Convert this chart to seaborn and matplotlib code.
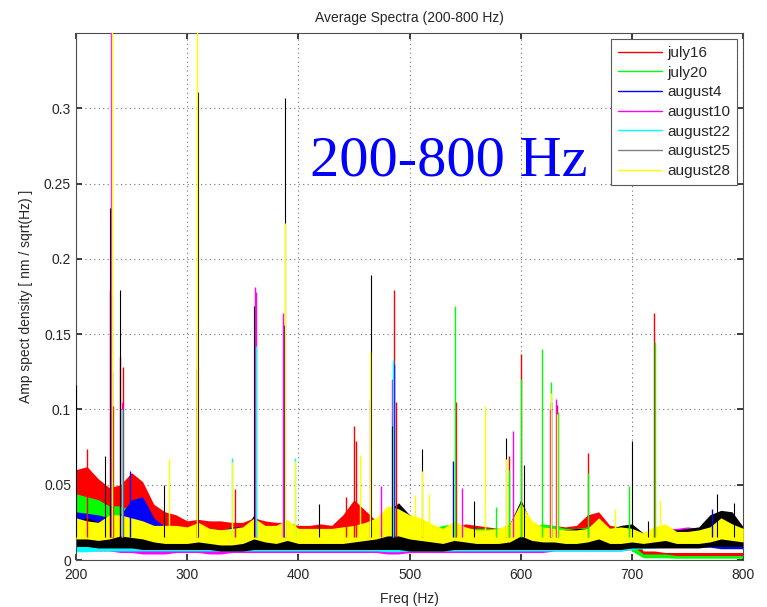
import numpy as np
import pandas as pd
import matplotlib
matplotlib.use("Agg")
import matplotlib.pyplot as plt
import seaborn as sns

# Frequency grid (Hz) on which the spectral envelopes are tabulated
freq = np.arange(200, 801, 10)

series_names = ["july16", "july20", "august4", "august10", "august22", "august25", "august28"]
series_colors = ["#ff0000", "#00ff00", "#0000ff", "#ff00ff", "#00ffff", "#000000", "#ffff00"]

# Upper / lower envelope of each averaged spectrum  [nm / sqrt(Hz)]
july16_hi = [.060, .062, .054, .048, .050, .058, .052, .037, .032, .030,
             .026, .027, .026, .026, .025, .025, .028, .026, .025, .025,
             .023, .023, .024, .023, .030, .040, .033, .026, .025, .024,
             .022, .021, .021, .020, .021, .024, .023, .022, .021, .022,
             .025, .022, .022, .023, .022, .023, .030, .032, .023, .022,
             .018, .006, .006, .005, .005, .005, .005, .005, .005, .005,
             .005]
july16_lo = [.024, .026, .024, .022, .022, .026, .024, .016, .014, .014,
             .013, .013, .013, .013, .013, .013, .015, .013, .013, .013,
             .013, .013, .013, .013, .015, .018, .016, .014, .014, .014,
             .013, .013, .013, .013, .013, .013, .013, .013, .013, .013,
             .013, .013, .013, .013, .013, .013, .016, .016, .013, .013,
             .008, .003, .003, .003, .002, .002, .002, .002, .002, .002,
             .002]
july20_hi = [.044, .042, .040, .036, .036, .033, .030, .025, .023, .022,
             .021, .022, .021, .020, .021, .021, .024, .021, .020, .022,
             .020, .020, .021, .020, .022, .022, .022, .022, .025, .024,
             .023, .021, .021, .023, .024, .021, .021, .021, .021, .022,
             .024, .022, .024, .023, .021, .021, .022, .022, .021, .023,
             .010, .004, .004, .004, .003, .003, .003, .003, .003, .003,
             .003]
july20_lo = [.022, .022, .020, .019, .019, .018, .016, .014, .013, .013,
             .012, .012, .012, .012, .012, .012, .012, .012, .012, .012,
             .012, .012, .012, .012, .012, .012, .012, .012, .012, .012,
             .012, .012, .012, .012, .012, .012, .012, .012, .012, .012,
             .012, .012, .012, .012, .012, .012, .012, .012, .012, .012,
             .006, .0015, .0015, .0015, .0012, .0012, .0012, .0012, .0012, .0012,
             .0012]
august4_hi = [.032, .031, .030, .028, .030, .040, .042, .028, .022, .020,
              .019, .020, .019, .019, .022, .022, .024, .020, .019, .022,
              .019, .019, .019, .019, .020, .021, .022, .022, .024, .023,
              .022, .020, .019, .020, .024, .020, .019, .019, .019, .021,
              .024, .021, .020, .020, .019, .019, .021, .022, .019, .020,
              .018, .016, .018, .018, .016, .016, .017, .020, .022, .020,
              .018]
august4_lo = [.016, .016, .016, .015, .015, .020, .020, .014, .012, .012,
              .011, .011, .011, .011, .011, .011, .011, .011, .011, .011,
              .011, .011, .011, .011, .011, .011, .011, .011, .011, .011,
              .011, .011, .011, .011, .011, .011, .011, .011, .011, .011,
              .011, .011, .011, .011, .011, .011, .011, .011, .011, .011,
              .009, .0085, .0085, .0085, .0085, .0085, .0085, .0085, .0075, .0075,
              .0075]
august10_hi = [.016, .016, .015, .015, .015, .015, .014, .013, .013, .013,
               .013, .014, .013, .013, .013, .013, .016, .014, .013, .015,
               .013, .013, .013, .013, .013, .013, .013, .013, .016, .016,
               .014, .013, .013, .013, .014, .013, .013, .013, .013, .014,
               .016, .014, .014, .014, .014, .014, .015, .016, .014, .015,
               .016, .016, .018, .021, .021, .022, .021, .020, .020, .018,
               .017]
august10_lo = [.006, .006, .006, .006, .005, .005, .004, .004, .004, .005,
               .005, .005, .004, .004, .005, .005, .005, .005, .005, .005,
               .005, .005, .005, .005, .005, .005, .005, .005, .004, .004,
               .005, .005, .005, .005, .005, .005, .005, .005, .005, .005,
               .005, .005, .005, .006, .006, .006, .006, .006, .006, .006,
               .007, .009, .009, .010, .010, .010, .010, .010, .010, .010,
               .010]
august22_hi = [.015, .015, .014, .014, .014, .014, .013, .013, .013, .013,
               .013, .014, .013, .013, .013, .013, .018, .014, .013, .016,
               .013, .013, .013, .013, .013, .013, .014, .014, .018, .018,
               .014, .013, .013, .013, .014, .013, .013, .013, .013, .014,
               .018, .014, .014, .014, .013, .013, .014, .015, .013, .014,
               .015, .014, .015, .016, .015, .015, .015, .016, .016, .015,
               .014]
august22_lo = [.0055, .0055, .006, .006, .006, .006, .006, .006, .006, .006,
               .006, .006, .006, .006, .006, .006, .006, .006, .006, .006,
               .006, .006, .006, .006, .006, .006, .006, .006, .0055, .0055,
               .006, .006, .006, .006, .006, .006, .006, .006, .006, .006,
               .006, .006, .006, .006, .006, .006, .006, .006, .006, .006,
               .007, .0075, .008, .009, .009, .009, .009, .009, .009, .009,
               .009]
august25_hi = [.026, .028, .025, .024, .026, .022, .020, .019, .022, .018,
               .017, .020, .016, .016, .017, .018, .030, .020, .019, .024,
               .018, .018, .020, .017, .018, .020, .022, .026, .032, .038,
               .030, .025, .021, .019, .022, .020, .018, .018, .019, .024,
               .040, .024, .020, .020, .020, .021, .021, .024, .020, .023,
               .024, .018, .020, .021, .020, .021, .022, .030, .033, .032,
               .022]
august25_lo = [.009, .009, .008, .008, .008, .008, .007, .007, .007, .007,
               .007, .007, .007, .006, .006, .006, .007, .007, .007, .007,
               .007, .007, .007, .007, .007, .007, .007, .007, .007, .007,
               .006, .006, .006, .006, .007, .007, .007, .007, .007, .007,
               .007, .007, .007, .007, .007, .007, .007, .007, .007, .007,
               .008, .008, .008, .008, .008, .008, .008, .009, .009, .009,
               .009]
august28_hi = [.028, .026, .025, .030, .030, .028, .026, .023, .023, .023,
               .022, .025, .021, .020, .021, .022, .028, .023, .023, .027,
               .021, .021, .021, .021, .022, .023, .025, .028, .036, .034,
               .030, .028, .024, .021, .026, .022, .020, .020, .021, .024,
               .038, .026, .022, .021, .020, .020, .021, .028, .021, .022,
               .021, .018, .022, .024, .019, .019, .020, .022, .028, .024,
               .021]
august28_lo = [.014, .014, .013, .014, .016, .015, .014, .012, .011, .011,
               .011, .012, .011, .010, .010, .011, .014, .012, .011, .013,
               .011, .011, .011, .011, .011, .012, .013, .014, .016, .016,
               .014, .013, .012, .011, .013, .012, .011, .011, .011, .012,
               .016, .013, .012, .012, .011, .011, .012, .014, .011, .011,
               .012, .011, .012, .013, .011, .011, .011, .012, .014, .013,
               .012]

# Narrow spectral lines: (frequency Hz, peak amplitude)
july16_lines = [(209.6, 0.074), (231, 0.179), (233, 0.102), (240, 0.135), (242, 0.128),
                (309, 0.127), (342.8, 0.047), (442.4, 0.042), (450, 0.089), (451.5, 0.079),
                (486, 0.179), (487.5, 0.105), (541.5, 0.105), (589, 0.069), (600, 0.137),
                (633, 0.103), (660, 0.071), (720, 0.164)]
july20_lines = [(541, 0.169), (577.6, 0.035), (589.5, 0.06), (600.3, 0.12), (619, 0.14),
                (627, 0.118), (633.5, 0.098), (660.3, 0.058), (697, 0.049), (720.3, 0.145)]
august4_lines = [(248.5, 0.059), (386.8, 0.156), (485.6, 0.13), (538.6, 0.066),
                 (627.2, 0.105), (771.5, 0.034)]
august10_lines = [(231.3, 0.62), (232.5, 0.125), (241, 0.105), (308.5, 0.152),
                  (361, 0.181), (362.3, 0.178), (386.2, 0.164), (464, 0.106),
                  (474.6, 0.049), (484.5, 0.12), (546.9, 0.048), (593, 0.086),
                  (626.6, 0.1), (632, 0.107)]
august22_lines = [(241.3, 0.1), (340.4, 0.068), (361.8, 0.142), (397, 0.068), (485.2, 0.133)]
august25_lines = [(200.3, 0.116), (226, 0.069), (230.5, 0.234), (232, 0.176), (239.6, 0.179),
                  (279, 0.05), (309.6, 0.311), (360.2, 0.169), (388.3, 0.307), (419, 0.037),
                  (465.2, 0.189), (484, 0.089), (511.3, 0.074), (558, 0.039), (586.6, 0.081),
                  (602.7, 0.063), (700, 0.079), (714.5, 0.026), (776.6, 0.044), (791.6, 0.038)]
august28_lines = [(232.2, 0.45), (283.5, 0.067), (309.2, 0.48), (340.2, 0.065), (387.7, 0.224),
                  (397.2, 0.066), (455, 0.07), (464.8, 0.138), (505, 0.043), (511.6, 0.059),
                  (517.6, 0.044), (568, 0.102), (586.9, 0.067), (627.4, 0.111), (632.6, 0.097),
                  (685, 0.034), (725, 0.04)]

envelopes = {
    "july16": (july16_lo, july16_hi, july16_lines),
    "july20": (july20_lo, july20_hi, july20_lines),
    "august4": (august4_lo, august4_hi, august4_lines),
    "august10": (august10_lo, august10_hi, august10_lines),
    "august22": (august22_lo, august22_hi, august22_lines),
    "august25": (august25_lo, august25_hi, august25_lines),
    "august28": (august28_lo, august28_hi, august28_lines),
}

sns.set_theme(style="ticks")
plt.rcParams["font.family"] = ["Liberation Sans", "DejaVu Sans"]

fig = plt.figure(figsize=(7.67, 6.07), dpi=100)
ax = fig.add_axes([0.099, 0.0774, 0.870, 0.8682])

# Each spectrum as a filled band between its lower and upper envelope;
# later spectra are stacked on top of earlier ones.
for i, (name, color) in enumerate(zip(series_names, series_colors)):
    lo, hi, _ = envelopes[name]
    df = pd.DataFrame({
        "freq": np.concatenate([freq, freq]),
        "amp": np.concatenate([lo, hi]),
    })
    sns.lineplot(data=df, x="freq", y="amp", ax=ax, color=color,
                 estimator="mean", errorbar=("pi", 100),
                 err_kws={"alpha": 1.0, "linewidth": 0, "zorder": 2 + 0.1 * i},
                 linewidth=0, zorder=2 + 0.1 * i, label=name)

# Narrow lines drawn over the bands
for name, color in zip(series_names, series_colors):
    _, _, lines = envelopes[name]
    f = [p[0] for p in lines]
    a = [p[1] for p in lines]
    lw = 0.8 if name == "august25" else 1.0
    ax.vlines(f, 0.015, a, colors=color, linewidth=lw, zorder=5)

ax.set_xlim(200, 800)
ax.set_ylim(0, 0.35)
ax.set_xticks([200, 300, 400, 500, 600, 700, 800])
ax.set_yticks([0, 0.05, 0.1, 0.15, 0.2, 0.25, 0.3])
ax.set_yticklabels(["0", "0.05", "0.1", "0.15", "0.2", "0.25", "0.3"])
ax.tick_params(direction="in", length=4, top=True, right=True,
               labelsize=10, colors="0.15")
ax.tick_params(axis="x", pad=6)
ax.grid(True, linestyle=(0, (1, 3)), color="0.45", linewidth=0.8)
ax.set_axisbelow(True)
for sp in ax.spines.values():
    sp.set_color("0.3")
    sp.set_linewidth(0.8)

ax.set_xlabel("Freq (Hz)", fontsize=10, labelpad=7)
ax.set_ylabel("Amp spect density [ nm / sqrt(Hz) ]", fontsize=10, labelpad=8)
ax.set_title("Average Spectra (200-800 Hz)", fontsize=10, pad=8)

ax.text(410.5, 0.2555, "200-800 Hz", color="#0000ff", fontsize=42,
        family="Liberation Serif", ha="left", va="baseline", zorder=6)

handles, labels = ax.get_legend_handles_labels()
leg = ax.legend(handles, labels, loc="upper right", fontsize=11,
                handlelength=2.9, handletextpad=0.35, labelspacing=0.37,
                borderaxespad=0.4, borderpad=0.45, fancybox=False,
                framealpha=1, edgecolor="0.35")
for ln, c in zip(leg.get_lines(), series_colors):
    ln.set_linewidth(1.0)
    ln.set_color(c if c != "#000000" else "0.5")
leg.get_frame().set_linewidth(0.8)
leg.set_zorder(10)

fig.savefig("out.png", dpi=100)
